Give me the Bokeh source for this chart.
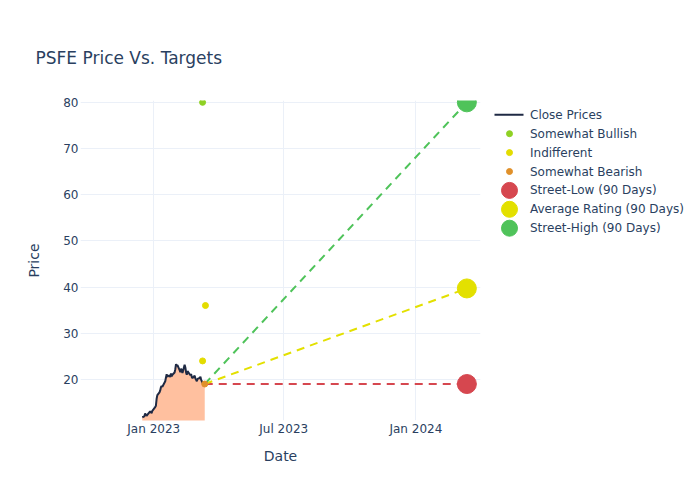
import pandas as pd
from bokeh.plotting import figure
from bokeh.models import Range1d, FixedTicker, DatetimeTickFormatter
from bokeh.layouts import row
from bokeh.embed import file_html
from bokeh.resources import INLINE
from bokeh.core.properties import value

# ---------------- data ----------------
close_dates = [
    "2022-12-16", "2022-12-19", "2022-12-20", "2022-12-21", "2022-12-22", "2022-12-23",
    "2022-12-27", "2022-12-28", "2022-12-29", "2022-12-30",
    "2023-01-03", "2023-01-04", "2023-01-05", "2023-01-06", "2023-01-09", "2023-01-10",
    "2023-01-11", "2023-01-12", "2023-01-13", "2023-01-17", "2023-01-18", "2023-01-19",
    "2023-01-20", "2023-01-23", "2023-01-24", "2023-01-25", "2023-01-26", "2023-01-27",
    "2023-01-30", "2023-01-31",
    "2023-02-01", "2023-02-02", "2023-02-03", "2023-02-06", "2023-02-07", "2023-02-08",
    "2023-02-09", "2023-02-10", "2023-02-13", "2023-02-14", "2023-02-15", "2023-02-16",
    "2023-02-17", "2023-02-21", "2023-02-22", "2023-02-23", "2023-02-24", "2023-02-27",
    "2023-02-28",
    "2023-03-01", "2023-03-02", "2023-03-03", "2023-03-06", "2023-03-07", "2023-03-08",
    "2023-03-09", "2023-03-10", "2023-03-13",
]
close_prices = [
    11.8, 12.0, 12.6, 12.4, 12.1, 12.3,
    13.1, 12.9, 12.7, 13.2,
    14.0, 14.3, 15.8, 16.6, 17.2, 17.6,
    18.3, 18.6, 18.4, 19.6, 20.4, 21.1,
    20.6, 20.9, 20.5, 21.3, 20.7, 21.0,
    21.5, 22.2,
    23.3, 23.0, 23.1, 22.0, 21.6, 22.3,
    22.0, 21.4, 23.2, 22.6, 21.5, 21.0,
    21.8, 20.9, 21.2, 20.5, 20.3, 20.8,
    20.2,
    19.9, 19.6, 20.1, 20.3, 20.6, 19.9,
    19.6, 19.2, 19.0,
]

bullish_dates = ["2023-03-10"]
bullish_targets = [80.0]
indifferent_dates = ["2023-03-14", "2023-03-10"]
indifferent_targets = [36.0, 24.0]
bearish_dates = ["2023-03-13"]
bearish_targets = [19.0]

target_date = "2024-03-12"
street_low = 19.0
average_rating = 39.7
street_high = 80.0

x_tick_dates = ["2023-01-01", "2023-07-01", "2024-01-01"]
y_ticks = [20, 30, 40, 50, 60, 70, 80]
x_start, x_end = "2022-09-21", "2024-03-31"
y_start, y_end = 11.1, 80.4

legend_labels = ["Close Prices", "Somewhat Bullish", "Indifferent", "Somewhat Bearish",
                 "Street-Low (90 Days)", "Average Rating (90 Days)", "Street-High (90 Days)"]

# ---------------- styles ----------------
FONT = "DejaVu Sans"
TXT = "#2a3f5f"
GRID = "#EBF0F8"
C_LINE = "#1f2a44"
C_FILL = "#FFC09F"
C_BULL = "#8fd124"
C_IND = "#e3dc00"
C_BEAR = "#e0902a"
C_LOW = "#d6474f"
C_AVG = "#e3e000"
C_HIGH = "#4fc35a"

to_dt = lambda s: pd.to_datetime(s)
cd = pd.to_datetime(close_dates)
last_date = cd[-1]
last_price = close_prices[-1]
tdt = to_dt(target_date)

p = figure(width=492, height=492, x_axis_type="datetime",
           x_range=Range1d(to_dt(x_start), to_dt(x_end)),
           y_range=Range1d(y_start, y_end),
           output_backend="svg", toolbar_location=None,
           min_border_left=80, min_border_right=12, min_border_top=100, min_border_bottom=72)
p.outline_line_color = None
p.background_fill_color = "white"

# title
p.title.text = "PSFE Price Vs. Targets"
p.title.text_font = FONT
p.title.text_font_size = "17px"
p.title.text_font_style = "normal"
p.title.text_color = TXT
p.title.align = "left"
p.title.offset = -45
p.title.standoff = 66

# area + line
p.varea(x=cd, y1=0, y2=close_prices, fill_color=C_FILL, fill_alpha=1.0)

# target lines
for tgt, col in [(street_low, C_LOW), (average_rating, C_AVG), (street_high, C_HIGH)]:
    p.line(x=[last_date, tdt], y=[last_price, tgt], line_color=col, line_width=2,
           line_dash="8 6")

p.line(x=cd, y=close_prices, line_color=C_LINE, line_width=2)

# analyst points
p.scatter(x=pd.to_datetime(bearish_dates), y=bearish_targets, size=6, color=C_BEAR)
p.scatter(x=pd.to_datetime(bullish_dates), y=bullish_targets, size=6, color=C_BULL)
p.scatter(x=pd.to_datetime(indifferent_dates), y=indifferent_targets, size=6, color=C_IND)

# target markers
p.scatter(x=[tdt], y=[street_low], size=19, color=C_LOW)
p.scatter(x=[tdt], y=[average_rating], size=19, color=C_AVG)
p.scatter(x=[tdt], y=[street_high], size=19, color=C_HIGH)

# axes
p.xaxis.ticker = FixedTicker(ticks=[d.timestamp() * 1000 for d in pd.to_datetime(x_tick_dates)])
p.xaxis.formatter = DatetimeTickFormatter(years="%b %Y", months="%b %Y", days="%b %Y",
                                          hours="%b %Y", minutes="%b %Y")
p.yaxis.ticker = FixedTicker(ticks=y_ticks)
for ax in (p.xaxis, p.yaxis):
    ax.axis_line_color = None
    ax.major_tick_line_color = None
    ax.minor_tick_line_color = None
    ax.major_tick_out = 0
    ax.major_tick_in = 0
    ax.minor_tick_out = 0
    ax.major_label_text_font = FONT
    ax.major_label_text_font_size = "12px"
    ax.major_label_text_color = TXT
    ax.axis_label_text_font = FONT
    ax.axis_label_text_font_size = "14px"
    ax.axis_label_text_font_style = "normal"
    ax.axis_label_text_color = TXT
p.xaxis.axis_label = "Date"
p.yaxis.axis_label = "Price"
p.xaxis.major_label_standoff = 1
p.xaxis.axis_label_standoff = 9
p.yaxis.major_label_standoff = 2
p.yaxis.axis_label_standoff = 18
p.grid.grid_line_color = GRID
p.grid.grid_line_width = 1

# ---------------- legend panel ----------------
# the row layout aligns this frame with the main frame (page y 100..420)
lg = figure(width=200, height=492, x_range=Range1d(0, 200), y_range=Range1d(420, 100),
            output_backend="svg", toolbar_location=None,
            x_axis_location=None, y_axis_location=None,
            min_border=0)
lg.outline_line_color = None
lg.grid.visible = False

y0, dy = 114.3, 18.9
ys = [y0 + i * dy for i in range(len(legend_labels))]
lg.line(x=[2, 31], y=[ys[0], ys[0]], line_color=C_LINE, line_width=2)
lg.scatter(x=[17] * 3, y=ys[1:4], size=6, color=[C_BULL, C_IND, C_BEAR])
lg.scatter(x=[17] * 3, y=ys[4:7], size=16, color=[C_LOW, C_AVG, C_HIGH])
lg.text(x=[37.5] * len(ys), y=ys, text=legend_labels, text_baseline="middle",
        text_font=value(FONT), text_font_size="12px", text_color=TXT)

layout = row(p, lg)
open("out.html", "w").write(file_html(layout, INLINE))
